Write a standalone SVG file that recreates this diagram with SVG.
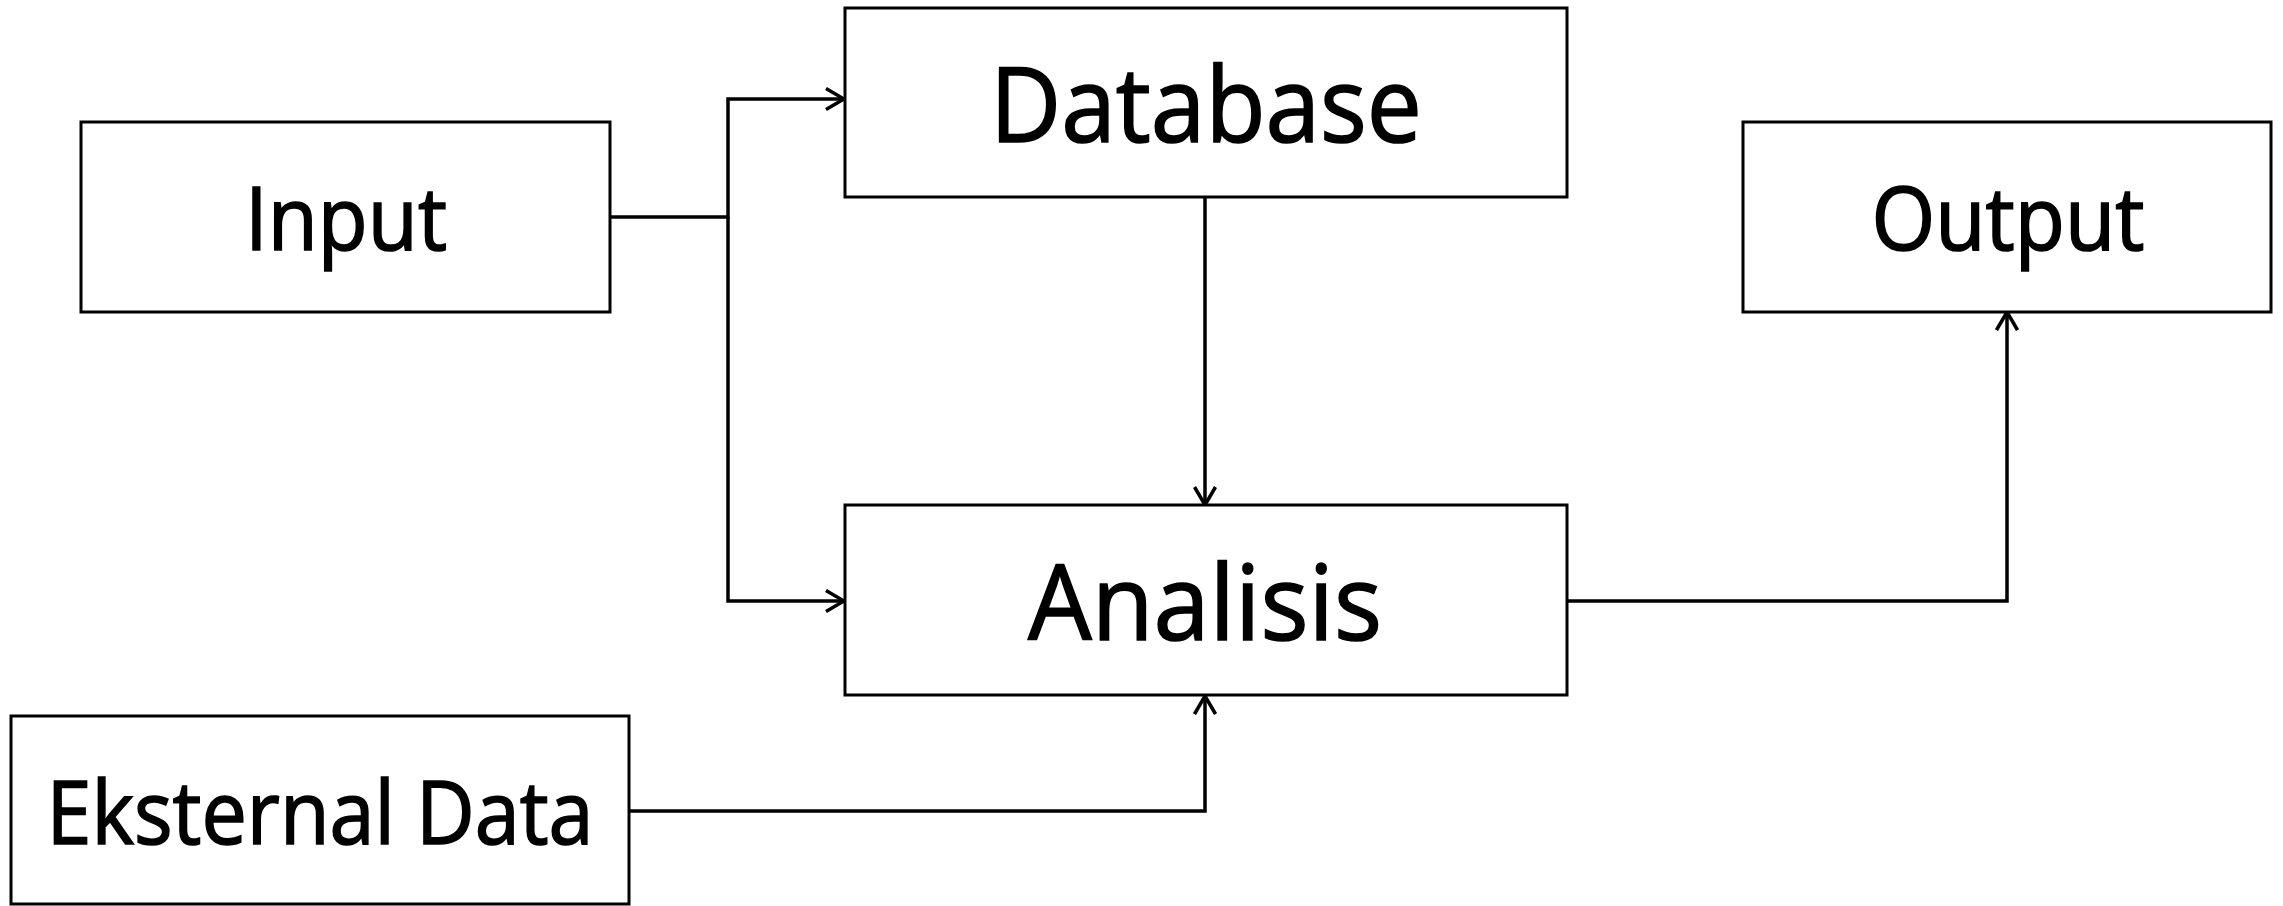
<svg xmlns="http://www.w3.org/2000/svg" width="2283" height="906" viewBox="0 0 2283 906">
<style>
.box{fill:#fff;stroke:#000;stroke-width:3}
.lbl{font-family:"Open Sans","Noto Sans",sans-serif;fill:#000;stroke:#000;stroke-width:1.6;text-anchor:middle}
.con{fill:none;stroke:#000;stroke-width:3.5}
</style>
<defs>
<marker id="arr" viewBox="0 0 22 24" markerWidth="22" markerHeight="24" refX="20" refY="12" orient="auto" markerUnits="userSpaceOnUse">
<path d="M2,1.5 L20,12 L2,22.5" fill="none" stroke="#000" stroke-width="3.5"/>
</marker>
</defs>
<rect width="2283" height="906" fill="#fff"/>
<g id="connectors">
<path class="con" d="M610,217 H728 V99 H844" marker-end="url(#arr)"/>
<path class="con" d="M728,217 V601 H844" marker-end="url(#arr)"/>
<path class="con" d="M1205,197 V505" marker-end="url(#arr)"/>
<path class="con" d="M629,811 H1205 V696" marker-end="url(#arr)"/>
<path class="con" d="M1567,601 H2007 V312" marker-end="url(#arr)"/>
</g>
<g id="input">
<rect class="box" x="81" y="122" width="529" height="190"/>
<text class="lbl" x="346" y="250" font-size="87" textLength="202" lengthAdjust="spacingAndGlyphs">Input</text>
</g>
<g id="database">
<rect class="box" x="845" y="8" width="722" height="189"/>
<text class="lbl" x="1206" y="142" font-size="104" textLength="432" lengthAdjust="spacingAndGlyphs">Database</text>
</g>
<g id="output">
<rect class="box" x="1743" y="122" width="528" height="190"/>
<text class="lbl" x="2008" y="250" font-size="87" textLength="273" lengthAdjust="spacingAndGlyphs">Output</text>
</g>
<g id="analisis">
<rect class="box" x="845" y="505" width="722" height="190"/>
<text class="lbl" x="1205" y="640" font-size="104" textLength="354" lengthAdjust="spacingAndGlyphs">Analisis</text>
</g>
<g id="eksternal-data">
<rect class="box" x="11" y="716" width="618" height="188"/>
<text class="lbl" x="320" y="844" font-size="87" textLength="547" lengthAdjust="spacingAndGlyphs">Eksternal Data</text>
</g>
</svg>
